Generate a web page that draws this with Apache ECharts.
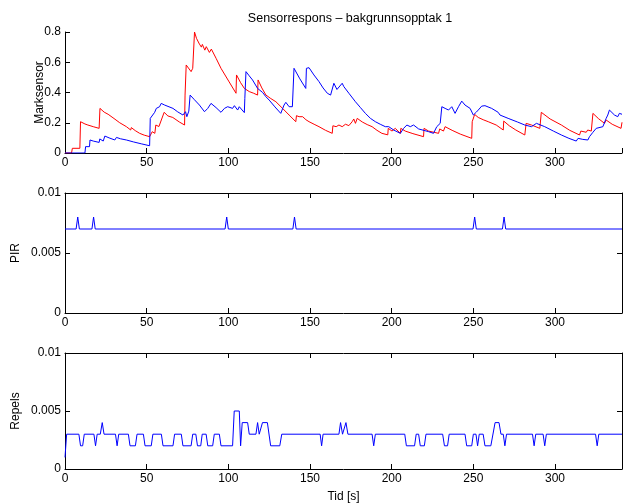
<!DOCTYPE html>
<html>
<head>
<meta charset="utf-8">
<script src="https://cdn.jsdelivr.net/npm/echarts@6/dist/echarts.min.js"></script>
<style>
  html, body { margin: 0; padding: 0; background: #fff; }
  #chart { width: 625px; height: 504px; }
</style>
</head>
<body>
<div id="chart"></div>
<script>
// Time axis ticks (seconds)
const timeTicks = [0, 50, 100, 150, 200, 250, 300];
const timeMax = 341;

// Marksensor, red channel: [time s, response]
const markRed = [[0,0],[4,0],[4.5,0.031],[9.1,0.031],[9.5,0.207],[12.2,0.192],[14,0.185],[14.5,0.196],[17.3,0.174],[17.8,0.185],[20.9,0.163],[21.4,0.295],[24,0.27],[26.4,0.256],[26.9,0.262],[30,0.228],[33.5,0.2],[37.6,0.174],[40.2,0.152],[40.6,0.168],[43,0.148],[45.7,0.13],[48.5,0.118],[51.8,0.108],[53,0.108],[53.4,0.141],[55,0.13],[55.6,0.185],[57.5,0.175],[60.7,0.269],[63,0.245],[64,0.255],[66,0.235],[67,0.242],[70,0.205],[73.2,0.185],[73.5,0.383],[74.2,0.582],[75.2,0.571],[77.2,0.538],[78.2,0.56],[79.3,0.80],[80.5,0.758],[82.3,0.72],[83.5,0.70],[84.1,0.718],[85.6,0.68],[86.5,0.703],[88.4,0.665],[89.6,0.687],[92.5,0.626],[95.5,0.56],[96.6,0.549],[100.5,0.47],[104.7,0.395],[105,0.516],[107.5,0.465],[109.8,0.427],[110.5,0.44],[112.8,0.406],[113.6,0.418],[115.5,0.395],[117.9,0.383],[118.2,0.483],[120.5,0.43],[123,0.383],[126,0.36],[129.1,0.339],[133.2,0.295],[137.2,0.251],[141.3,0.207],[141.7,0.247],[143.3,0.24],[144.5,0.232],[145.5,0.24],[147.5,0.22],[149.4,0.207],[152.5,0.19],[155.5,0.174],[159.5,0.15],[163.6,0.13],[164,0.18],[166,0.174],[167.7,0.185],[169.7,0.174],[171.7,0.19],[173.8,0.181],[174.8,0.174],[175.8,0.207],[176.8,0.225],[177.8,0.196],[178.9,0.229],[182,0.205],[185,0.188],[188,0.174],[191,0.15],[194,0.13],[197.6,0.12],[197.9,0.163],[200.2,0.145],[202.2,0.163],[205.3,0.13],[205.6,0.163],[208.3,0.145],[213,0.128],[219.5,0.108],[219.8,0.163],[222.6,0.145],[223.6,0.158],[228.7,0.13],[229.4,0.159],[231.7,0.145],[232.7,0.174],[237,0.15],[242,0.125],[249,0.097],[249.3,0.207],[250.8,0.255],[253,0.235],[256,0.22],[259.1,0.207],[260.2,0.218],[264,0.185],[268.3,0.152],[268.6,0.211],[272,0.18],[276,0.152],[281.5,0.119],[282.3,0.196],[285.6,0.185],[290.7,0.163],[291.6,0.269],[297,0.225],[303.9,0.185],[309,0.15],[315,0.119],[315.8,0.145],[319.1,0.137],[320,0.152],[322.2,0.145],[323.2,0.262],[326.5,0.228],[330.3,0.196],[331.3,0.218],[335,0.19],[340.4,0.163],[341,0.203]];

// Marksensor, blue channel: [time s, response]
const markBlue = [[0,0],[12.2,0],[12.6,0.042],[15,0.042],[15.3,0.086],[17.3,0.079],[20.9,0.07],[21.3,0.093],[23.4,0.079],[24.4,0.112],[27,0.1],[30.5,0.086],[31.5,0.103],[34,0.094],[37.6,0.086],[42,0.073],[47,0.06],[51.8,0.048],[52.2,0.229],[54.9,0.269],[55.9,0.295],[57.9,0.306],[58.9,0.328],[61,0.317],[62,0.328],[66.1,0.295],[69,0.272],[72.2,0.251],[73.8,0.273],[74.6,0.24],[75.8,0.277],[76.6,0.383],[79,0.355],[82.3,0.317],[85.4,0.273],[86.4,0.262],[87.4,0.295],[89.4,0.328],[92.5,0.3],[95.5,0.269],[96.6,0.262],[97.6,0.295],[99.6,0.306],[100.6,0.317],[102.6,0.295],[103.7,0.313],[105.7,0.284],[106.7,0.306],[109.8,0.267],[110.1,0.361],[110.8,0.538],[112.8,0.51],[114.8,0.483],[117.9,0.427],[118.4,0.418],[119,0.44],[121,0.4],[123,0.372],[125,0.35],[128.5,0.305],[132.1,0.262],[134.1,0.317],[135.2,0.335],[137.2,0.306],[139.2,0.306],[140.2,0.56],[143.8,0.49],[147.4,0.427],[147.8,0.56],[149.4,0.564],[152.4,0.516],[155.5,0.472],[158,0.43],[160.6,0.395],[162.6,0.383],[164.6,0.461],[166.5,0.42],[167.7,0.417],[169.7,0.461],[170.7,0.439],[173.8,0.395],[177.8,0.339],[180.9,0.30],[183.9,0.262],[187,0.229],[190,0.207],[193,0.19],[196.1,0.174],[198.2,0.174],[201.2,0.152],[205.3,0.13],[207.3,0.163],[209.3,0.185],[211.4,0.174],[213.4,0.185],[216.5,0.159],[222.6,0.141],[225.6,0.13],[227.6,0.174],[229.7,0.196],[230.7,0.306],[232.7,0.295],[234.8,0.284],[236.8,0.306],[238.8,0.262],[240.9,0.306],[242.9,0.343],[244.9,0.317],[248,0.295],[250,0.251],[251.8,0.27],[253,0.284],[255.1,0.31],[257.1,0.313],[261.2,0.295],[265.2,0.269],[266.3,0.251],[267.3,0.262],[271.3,0.229],[272.4,0.233],[277,0.205],[281.5,0.185],[282.5,0.196],[285.6,0.174],[288.6,0.196],[289.6,0.207],[293.7,0.174],[299,0.145],[303.9,0.119],[308.5,0.097],[313,0.079],[314.1,0.097],[317,0.09],[320.1,0.086],[321.1,0.108],[323.2,0.137],[325.2,0.163],[329.3,0.174],[330.3,0.185],[331.3,0.229],[332.3,0.251],[333.3,0.284],[336.4,0.251],[338.4,0.24],[339.4,0.262],[341,0.256]];

// PIR signal: [time s, value]
const pirSignal = [[0,0.007],[6.8,0.007],[7.8,0.008],[8.8,0.007],[16.5,0.007],[17.5,0.008],[18.5,0.007],[98,0.007],[99,0.008],[100,0.007],[139.5,0.007],[140.5,0.008],[141.5,0.007],[249.8,0.007],[250.8,0.008],[251.8,0.007],[267.8,0.007],[268.8,0.008],[269.8,0.007],[341,0.007]];

// Repels signal: [time s, value]
const repelsSignal = [[0,0.001],[1,0.003],[8.5,0.003],[9.5,0.002],[10.8,0.002],[11.8,0.003],[17.7,0.003],[18.7,0.002],[19.7,0.003],[21.6,0.003],[22.8,0.004],[23.9,0.003],[30.9,0.003],[31.9,0.002],[32.9,0.003],[38.8,0.003],[39.8,0.002],[43.1,0.002],[44.1,0.003],[48,0.003],[49,0.002],[52.8,0.002],[53.8,0.003],[59,0.003],[60,0.002],[66.1,0.002],[67.1,0.003],[71.2,0.003],[72.2,0.002],[77.2,0.002],[78.2,0.003],[80.1,0.003],[81.1,0.002],[83.1,0.002],[84,0.003],[86.4,0.003],[87.4,0.002],[90.4,0.002],[91.4,0.003],[94.5,0.003],[95.5,0.002],[102.6,0.002],[103.6,0.005],[106.7,0.005],[107.5,0.002],[108.5,0.004],[111.8,0.004],[112.8,0.003],[116.9,0.003],[117.9,0.004],[118.9,0.003],[119.9,0.003],[120.9,0.004],[123.9,0.004],[125.9,0.002],[131.5,0.002],[132.7,0.003],[156.2,0.003],[157.1,0.002],[158,0.003],[167.7,0.003],[168.7,0.004],[169.9,0.003],[171,0.003],[172,0.004],[173.2,0.003],[188,0.003],[189,0.002],[190,0.003],[208,0.003],[209,0.002],[214,0.002],[215,0.003],[216.5,0.003],[217.5,0.002],[220,0.002],[221,0.003],[231.2,0.003],[232.3,0.002],[234.2,0.002],[235.2,0.003],[244.9,0.003],[245.9,0.002],[249,0.002],[250,0.003],[251.6,0.003],[252.6,0.002],[253.6,0.003],[256,0.003],[257.1,0.002],[260.7,0.002],[263.3,0.004],[265.7,0.004],[266.9,0.003],[268.3,0.003],[269.3,0.002],[270.3,0.003],[286.2,0.003],[287.2,0.002],[288.2,0.003],[292.7,0.003],[293.7,0.002],[294.7,0.003],[324.8,0.003],[325.8,0.002],[326.8,0.003],[341,0.003]];

const FONT = 'Liberation Sans, Arial, sans-serif';
const FS = 12;

const chart = echarts.init(document.getElementById('chart'), null, { renderer: 'canvas' });

const axisLine = { show: true, onZero: false, lineStyle: { color: '#000', width: 1 } };
const tickIn = { show: true, inside: true, length: 5, lineStyle: { color: '#000', width: 1 } };

function timeAxis(gridIndex, position, showLabels, extra) {
  return Object.assign({
    type: 'value', gridIndex, position, min: 0, max: timeMax, interval: 50,
    axisLine, axisTick: tickIn, splitLine: { show: false },
    axisLabel: {
      show: showLabels, margin: 4, color: '#000', fontFamily: FONT, fontSize: FS,
      formatter: v => timeTicks.includes(v) ? String(v) : ''
    }
  }, extra || {});
}

function valueAxis(gridIndex, position, max, interval, showLabels, extra) {
  return Object.assign({
    type: 'value', gridIndex, position, min: 0, max, interval,
    axisLine, axisTick: tickIn, splitLine: { show: false },
    axisLabel: { show: showLabels, margin: 4, color: '#000', fontFamily: FONT, fontSize: FS }
  }, extra || {});
}

const nameStyle = { color: '#000', fontFamily: FONT, fontSize: FS };

chart.setOption({
  animation: false,
  backgroundColor: '#fff',
  title: {
    text: 'Sensorrespons – bakgrunnsopptak 1',
    left: 345, top: 7, textAlign: 'center',
    textStyle: { color: '#000', fontFamily: FONT, fontSize: 12.5, fontWeight: 'normal' }
  },
  grid: [
    { left: 65, right: 1, top: 32, height: 121 },
    { left: 65, right: 1, top: 193, height: 120 },
    { left: 65, right: 1, top: 353, height: 120 }
  ],
  xAxis: [
    timeAxis(0, 'bottom', true),
    timeAxis(1, 'bottom', true),
    timeAxis(1, 'top', false),
    timeAxis(2, 'bottom', true, {
      name: 'Tid [s]', nameLocation: 'middle', nameGap: 22, nameMoveOverlap: false,
      nameTextStyle: nameStyle
    }),
    timeAxis(2, 'top', false)
  ],
  yAxis: [
    valueAxis(0, 'left', 0.8, 0.2, true, {
      name: 'Marksensor', nameLocation: 'middle', nameGap: 19, nameMoveOverlap: false,
      nameTextStyle: nameStyle
    }),
    valueAxis(1, 'left', 0.01, 0.005, true, {
      name: 'PIR', nameLocation: 'middle', nameGap: 43, nameMoveOverlap: false,
      nameTextStyle: nameStyle
    }),
    valueAxis(1, 'right', 0.01, 0.005, false),
    valueAxis(2, 'left', 0.01, 0.005, true, {
      name: 'Repels', nameLocation: 'middle', nameGap: 43, nameMoveOverlap: false,
      nameTextStyle: nameStyle
    }),
    valueAxis(2, 'right', 0.01, 0.005, false)
  ],
  series: [
    { type: 'line', xAxisIndex: 0, yAxisIndex: 0, data: markRed, showSymbol: false,
      lineStyle: { color: '#ff0000', width: 1 }, itemStyle: { color: '#ff0000' } },
    { type: 'line', xAxisIndex: 0, yAxisIndex: 0, data: markBlue, showSymbol: false,
      lineStyle: { color: '#0000ff', width: 1 }, itemStyle: { color: '#0000ff' } },
    { type: 'line', xAxisIndex: 1, yAxisIndex: 1, data: pirSignal, showSymbol: false,
      lineStyle: { color: '#0000ff', width: 1 }, itemStyle: { color: '#0000ff' } },
    { type: 'line', xAxisIndex: 3, yAxisIndex: 3, data: repelsSignal, showSymbol: false,
      lineStyle: { color: '#0000ff', width: 1 }, itemStyle: { color: '#0000ff' } }
  ]
});
</script>
</body>
</html>
